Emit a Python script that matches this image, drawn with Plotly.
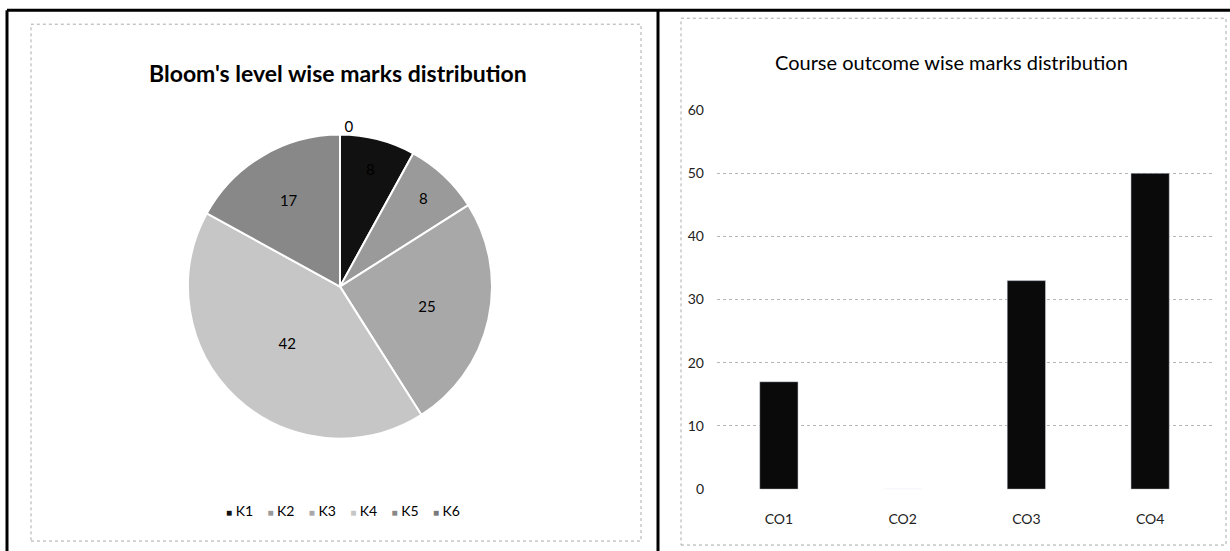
import plotly.graph_objects as go

W, H = 1230, 560

# Data
bloom_levels = ["K1", "K2", "K3", "K4", "K5", "K6"]
bloom_marks = [8, 8, 25, 42, 17, 0]
bloom_colors = ["#111111", "#9a9a9a", "#a8a8a8", "#c6c6c6", "#888888", "#7a7a7a"]

course_outcomes = ["CO1", "CO2", "CO3", "CO4"]
co_marks = [17, 0, 33, 50]
y_ticks = [0, 10, 20, 30, 40, 50, 60]

FONT = "Lato"

def px(x):
    return x / W

def py(y_screen):
    # screen pixel row -> paper fraction (compensates capture offset/scale)
    y_fig = y_screen * 567.0 / 551.0 - 8.0
    return 1 - y_fig / H

fig = go.Figure()

fig.add_trace(go.Pie(
    labels=bloom_levels,
    values=bloom_marks,
    sort=False,
    direction="clockwise",
    rotation=0,
    marker=dict(colors=bloom_colors, line=dict(color="white", width=2)),
    textinfo="value",
    textposition=["inside", "inside", "inside", "inside", "inside", "outside"],
    insidetextorientation="horizontal",
    textfont=dict(family=FONT, size=15, color="black"),
    outsidetextfont=dict(family=FONT, size=15, color="black"),
    domain=dict(x=[px(188), px(492)], y=[py(448), py(124)]),
    showlegend=False,
    hoverinfo="label+value",
))

fig.add_trace(go.Bar(
    x=course_outcomes,
    y=co_marks,
    marker=dict(color="#0a0a0a"),
    width=0.31,
    showlegend=False,
    xaxis="x",
    yaxis="y",
))

# compact legend row for the pie, built from the level names and colours
legend_text = "&nbsp;&nbsp;&nbsp;&nbsp;".join(
    f"<span style='color:{c};font-size:10px'>■</span> {lvl}"
    for lvl, c in zip(bloom_levels, bloom_colors)
)

fig.update_layout(
    width=W, height=H,
    autosize=False,
    margin=dict(l=0, r=0, t=0, b=0),
    paper_bgcolor="white",
    plot_bgcolor="white",
    font=dict(family=FONT, color="black"),
    showlegend=False,
    xaxis=dict(
        domain=[px(717), px(1212)],
        anchor="y",
        showgrid=False,
        showline=False,
        zeroline=False,
        ticks="",
        ticklabelstandoff=20,
        tickfont=dict(family=FONT, size=14, color="#222"),
    ),
    yaxis=dict(
        domain=[py(489), py(109)],
        anchor="x",
        range=[0, 60],
        tickvals=y_ticks,
        showgrid=True,
        gridcolor="#b5b5b5",
        griddash="dot",
        gridwidth=1,
        zeroline=False,
        showline=False,
        ticks="",
        ticklabelstandoff=12,
        tickfont=dict(family=FONT, size=14, color="#222"),
    ),
    annotations=[
        dict(text="<b>Bloom's level wise marks distribution</b>", x=px(338), y=py(72),
             xref="paper", yref="paper", xanchor="center", yanchor="middle", showarrow=False,
             font=dict(family=FONT, size=23, color="black")),
        dict(text="Course outcome wise marks distribution", x=px(952), y=py(61),
             xref="paper", yref="paper", xanchor="center", yanchor="middle", showarrow=False,
             font=dict(family=FONT, size=20, color="black")),
        dict(text=legend_text, x=px(343), y=py(510),
             xref="paper", yref="paper", xanchor="center", yanchor="middle", showarrow=False,
             font=dict(family=FONT, size=14, color="black")),
    ],
    shapes=[
        # outer frame
        dict(type="line", xref="paper", yref="paper", x0=px(7), x1=px(1230), y0=py(9), y1=py(9),
             line=dict(color="black", width=3)),
        dict(type="line", xref="paper", yref="paper", x0=px(7), x1=px(7), y0=py(9), y1=0,
             line=dict(color="black", width=3)),
        dict(type="line", xref="paper", yref="paper", x0=px(658), x1=px(658), y0=py(9), y1=0,
             line=dict(color="black", width=3)),
        # inner dotted frames
        dict(type="rect", xref="paper", yref="paper", x0=px(31), x1=px(641), y0=py(541), y1=py(23),
             line=dict(color="#aaaaaa", width=1, dash="dot")),
        dict(type="rect", xref="paper", yref="paper", x0=px(681), x1=px(1226), y0=py(545), y1=py(17),
             line=dict(color="#aaaaaa", width=1, dash="dot")),
    ],
)

fig.write_html(
    "out.html",
    config={"responsive": False, "displayModeBar": False},
    post_script=(
        "document.body.style.margin='0';"
        "document.body.style.overflow='hidden';"
        "document.documentElement.style.overflow='hidden';"
        "var d=document.getElementById('{plot_id}');"
        "d.style.position='fixed';d.style.top='0px';d.style.left='0px';"
    ),
)
